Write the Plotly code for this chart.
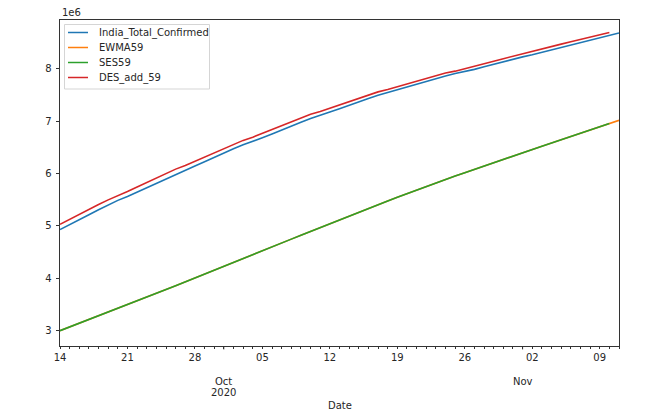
import pandas as pd
import plotly.graph_objects as go

# Values in millions (axis shows 1e6 multiplier)
india_total_confirmed = [
    4.930, 5.020, 5.118, 5.215, 5.308, 5.401, 5.488, 5.563, 5.646, 5.733, 5.819, 5.904, 5.993, 6.075, 6.145, 6.226, 6.313,
    6.394, 6.474, 6.549, 6.624, 6.685, 6.757, 6.836, 6.906, 6.979, 7.054, 7.121, 7.176, 7.239, 7.307, 7.370, 7.433,
    7.495, 7.550, 7.597, 7.651, 7.707, 7.761, 7.815, 7.865, 7.910, 7.946, 7.990, 8.040, 8.089, 8.137, 8.184,
    8.229, 8.268, 8.314, 8.364, 8.412, 8.462, 8.508, 8.554, 8.592, 8.636, 8.684,
]
ewma59 = [
    3.000, 3.070, 3.140, 3.211, 3.282, 3.353, 3.424, 3.496, 3.568, 3.640, 3.712, 3.784, 3.857, 3.930, 4.003,
    4.077, 4.151, 4.225, 4.300, 4.375, 4.450, 4.525, 4.600, 4.674, 4.748, 4.822, 4.896, 4.970, 5.043, 5.116,
    5.189, 5.261, 5.333, 5.405, 5.476, 5.547, 5.617, 5.686, 5.754, 5.821, 5.887, 5.953, 6.018, 6.083, 6.147,
    6.211, 6.274, 6.337, 6.400, 6.462, 6.524, 6.586, 6.648, 6.710, 6.772, 6.833, 6.894, 6.955, 7.016,
]
ses59 = [
    3.000, 3.070, 3.140, 3.211, 3.282, 3.353, 3.424, 3.496, 3.568, 3.640, 3.712, 3.784, 3.857, 3.930, 4.003,
    4.077, 4.151, 4.225, 4.300, 4.375, 4.450, 4.525, 4.600, 4.674, 4.748, 4.822, 4.896, 4.970, 5.043, 5.116,
    5.189, 5.261, 5.333, 5.405, 5.476, 5.547, 5.617, 5.686, 5.754, 5.821, 5.887, 5.953, 6.018, 6.083, 6.147,
    6.211, 6.274, 6.337, 6.400, 6.462, 6.524, 6.586, 6.648, 6.710, 6.772, 6.833, 6.894, 6.955,
]
des_add_59 = [
    5.030, 5.128, 5.225, 5.318, 5.411, 5.498, 5.573, 5.656, 5.743, 5.829, 5.914, 6.003, 6.085, 6.155, 6.236,
    6.323, 6.404, 6.484, 6.559, 6.634, 6.695, 6.767, 6.846, 6.916, 6.989, 7.064, 7.131, 7.186, 7.249, 7.317,
    7.380, 7.443, 7.505, 7.560, 7.607, 7.661, 7.717, 7.771, 7.825, 7.875, 7.920, 7.956, 8.000, 8.050, 8.099,
    8.147, 8.194, 8.239, 8.278, 8.324, 8.374, 8.422, 8.472, 8.518, 8.564, 8.602, 8.646, 8.694,
]
start_date = "2020-09-14"
week_ticks = ["2020-09-14", "2020-09-21", "2020-09-28", "2020-10-05", "2020-10-12",
              "2020-10-19", "2020-10-26", "2020-11-02", "2020-11-09"]
week_labels = ["14", "21", "28", "05", "12", "19", "26", "02", "09"]
month_ticks = ["2020-10-01", "2020-11-01"]
month_labels = ["Oct", "Nov"]
year_label = "2020"
y_ticks = [3, 4, 5, 6, 7, 8]

series_names = ["India_Total_Confirmed", "EWMA59", "SES59", "DES_add_59"]
series_values = [india_total_confirmed, ewma59, ses59, des_add_59]
series_colors = ["#1f77b4", "#ff7f0e", "#2ca02c", "#d62728"]

FONT = "DejaVu Sans"
TXT = "#262626"
W, H = 665, 416
ML, MR, MT, MB = 60, 46, 20, 70
PW, PH = W - ML - MR, H - MT - MB


def px_x(px):
    return (px - ML) / PW


def px_y(py):
    return (H - MB - py) / PH


fig = go.Figure()
for name, vals, color in zip(series_names, series_values, series_colors):
    dates = pd.date_range(start_date, periods=len(vals), freq="D")
    fig.add_trace(go.Scatter(
        x=dates, y=[v * 1e6 for v in vals], mode="lines", name=name,
        line=dict(color=color, width=1.6), showlegend=False,
    ))

x_end = pd.date_range(start_date, periods=len(india_total_confirmed), freq="D")[-1]

fig.update_layout(
    width=W, height=H,
    margin=dict(l=ML, r=MR, t=MT, b=MB, autoexpand=False),
    paper_bgcolor="white", plot_bgcolor="white",
    font=dict(family=FONT, size=10, color=TXT),
    showlegend=False,
    xaxis=dict(
        type="date", automargin=False,
        range=[start_date, x_end],
        tickmode="array", tickvals=week_ticks, ticktext=week_labels,
        ticks="outside", ticklen=2, tickwidth=0.8, tickcolor="#333",
        ticklabelstandoff=0,
        minor=dict(dtick=86400000, ticks="outside", ticklen=2, tickwidth=0.6, tickcolor="#333", showgrid=False),
        showgrid=False, zeroline=False,
        showline=True, linecolor="#333", linewidth=1, mirror=True,
        tickfont=dict(family=FONT, size=10, color=TXT),
    ),
    yaxis=dict(
        automargin=False,
        range=[2.707e6, 8.933e6],
        tickmode="array", tickvals=[v * 1e6 for v in y_ticks], ticktext=[str(v) for v in y_ticks],
        ticks="outside", ticklen=3.5, tickwidth=0.8, tickcolor="#333",
        ticklabelstandoff=2,
        showgrid=False, zeroline=False,
        showline=True, linecolor="#333", linewidth=1, mirror=True,
        tickfont=dict(family=FONT, size=10, color=TXT),
    ),
)

# Longer major ticks at month starts and month labels
for d, lab in zip(month_ticks, month_labels):
    fig.add_shape(type="line", xref="x", yref="paper", x0=d, x1=d, y0=0, y1=-3.5 / PH,
                  line=dict(color="#333", width=0.8))
    fig.add_annotation(x=d, xref="x", y=px_y(381), yref="paper", text=lab, showarrow=False,
                       yanchor="middle", font=dict(family=FONT, size=10, color=TXT))
fig.add_annotation(x=month_ticks[0], xref="x", y=px_y(392), yref="paper", text=year_label, showarrow=False,
                   yanchor="middle", font=dict(family=FONT, size=10, color=TXT))

# Axis label
fig.add_annotation(x=0.5, xref="paper", y=px_y(405), yref="paper", text="Date", showarrow=False,
                   yanchor="middle", font=dict(family=FONT, size=10, color=TXT))

# Offset text
fig.add_annotation(x=0, xref="paper", y=px_y(12.5), yref="paper", text="1e6", showarrow=False,
                   xanchor="left", yanchor="middle", font=dict(family=FONT, size=10, color=TXT))

# Legend (matplotlib style, compact)
fig.add_shape(type="rect", xref="paper", yref="paper",
              x0=px_x(64.5), x1=px_x(209.5), y0=px_y(89), y1=px_y(24.5),
              line=dict(color="#d5d5d5", width=1), fillcolor="rgba(255,255,255,0.8)", layer="above")
legend_rows = [32.5, 47.5, 62.5, 77.5]
for name, color, ry in zip(series_names, series_colors, legend_rows):
    fig.add_shape(type="line", xref="paper", yref="paper",
                  x0=px_x(68), x1=px_x(88), y0=px_y(ry), y1=px_y(ry),
                  line=dict(color=color, width=1.5), layer="above")
    fig.add_annotation(x=px_x(96.5), xref="paper", y=px_y(ry), yref="paper", text=name, showarrow=False,
                       xanchor="left", yanchor="middle", font=dict(family=FONT, size=10, color=TXT))

fig.write_html("out.html", post_script="document.body.style.margin='0';",
               config={"displayModeBar": False})
